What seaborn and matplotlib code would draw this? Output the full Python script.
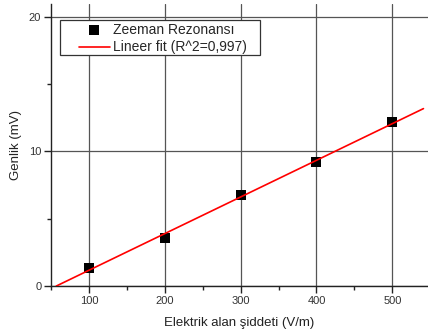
import numpy as np
import pandas as pd
import matplotlib
matplotlib.use("Agg")
import matplotlib.pyplot as plt
import seaborn as sns
from matplotlib.ticker import MultipleLocator
from matplotlib.patches import Rectangle

# Data
field = [100, 200, 300, 400, 500]          # V/m
amplitude = [1.36, 3.59, 6.74, 9.21, 12.16]  # mV
fit_range = [57, 541]
series_label = "Zeeman Rezonansı"
fit_label = "Lineer fit (R^2=0,997)"
x_label = "Elektrik alan şiddeti (V/m)"
y_label = "Genlik (mV)"

df = pd.DataFrame({"x": field, "y": amplitude})

sns.set_theme(style="white")
plt.rcParams['font.family'] = ['Liberation Sans', 'DejaVu Sans']

W, H = 428, 334
fig = plt.figure(figsize=(W/100, H/100), dpi=100)
ax = fig.add_axes([51/W, 48/H, 377/W, (286-4)/H])

slope, intercept = np.polyfit(df["x"], df["y"], 1)
xf = np.array(fit_range, dtype=float)
fit_df = pd.DataFrame({"x": xf, "y": slope * xf + intercept})

sns.lineplot(data=fit_df, x="x", y="y", ax=ax, color="#ff0000", lw=1.2,
             label=fit_label, zorder=4)
sns.scatterplot(data=df, x="x", y="y", ax=ax, marker="s", s=62, color="black",
                edgecolor="black", linewidth=0, label=series_label, zorder=3)

ax.set_xlim(50, 547)
ax.set_ylim(0, 20.94)
ax.xaxis.set_major_locator(MultipleLocator(100))
ax.xaxis.set_minor_locator(MultipleLocator(50))
ax.yaxis.set_major_locator(MultipleLocator(10))
ax.yaxis.set_minor_locator(MultipleLocator(5))

ax.grid(True, which="major", color="#555555", lw=0.9)
ax.set_axisbelow(True)
for s in ["top", "right"]:
    ax.spines[s].set_visible(False)
for s in ["left", "bottom"]:
    ax.spines[s].set_color("#222222")
    ax.spines[s].set_linewidth(1.0)

ax.tick_params(which="major", direction="out", length=5, width=1, color="#222222",
               labelsize=8, labelcolor="#333333", bottom=True, left=True, pad=2)
ax.tick_params(which="minor", direction="out", length=3, width=1, color="#222222",
               bottom=True, left=True)

ax.set_xlabel(x_label, fontsize=9.5, color="#222222", labelpad=8)
ax.set_ylabel(y_label, fontsize=9.5, color="#222222", labelpad=5)

# legend frame box (pixel coords of reference)
box = Rectangle((60/W, 1 - 55/H), 200/W, 35/H, transform=fig.transFigure,
                facecolor="white", edgecolor="#333333", lw=0.9, zorder=5)
ax.add_artist(box)
box.set_clip_on(False)

handles, labels = ax.get_legend_handles_labels()
order = [labels.index(series_label), labels.index(fit_label)]
leg = ax.legend([handles[i] for i in order], [labels[i] for i in order],
                loc="upper left", bbox_to_anchor=(79/W, 1 - 23/H),
                bbox_transform=fig.transFigure, fontsize=10,
                frameon=False, borderpad=0, labelspacing=0.25,
                handlelength=2.2, handletextpad=0.25, borderaxespad=0,
                markerscale=0.9)
leg.set_zorder(6)

fig.savefig("out.png", dpi=100)
